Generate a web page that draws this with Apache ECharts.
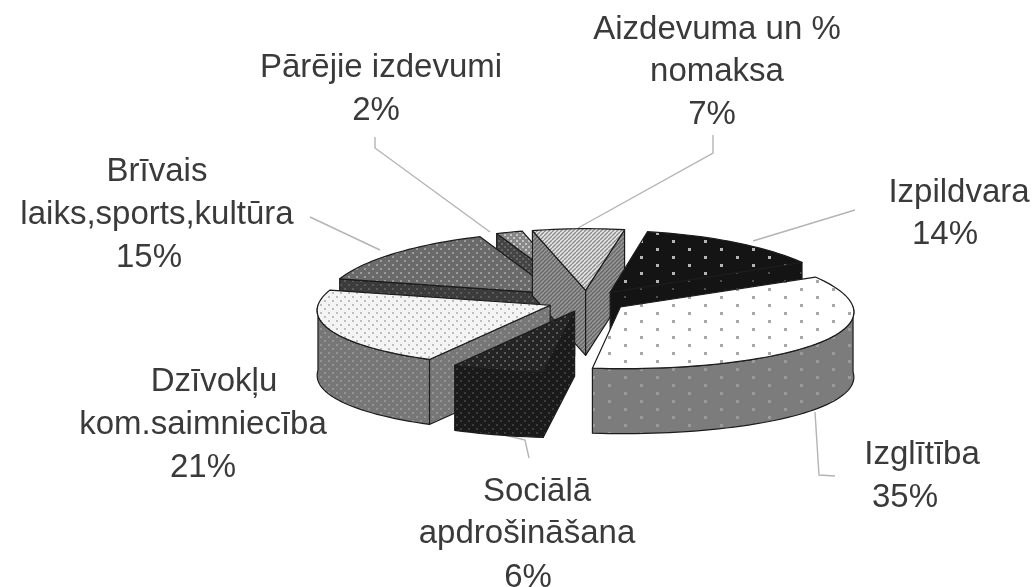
<!DOCTYPE html>
<html>
<head>
<meta charset="utf-8">
<script src="https://cdn.jsdelivr.net/npm/echarts@6/dist/echarts.min.js"></script>
<style>
  html, body { margin: 0; background: #fff; }
  #main { width: 1032px; height: 587px; filter: blur(0.5px); }
</style>
</head>
<body>
<div id="main"></div>
<script>
// percent shares, clockwise, starting from the right
var names = ['Izglītība', 'Sociālā apdrošināšana', 'Dzīvokļu kom.saimniecība', 'Brīvais laiks,sports,kultūra', 'Pārējie izdevumi', 'Aizdevuma un % nomaksa', 'Izpildvara']
var values = [35, 6, 21, 15, 2, 7, 14]
// back slices are painted first
var drawOrder = [4, 3, 5, 6, 2, 1, 0]

// pie geometry
var cx = 587, cy = 301, R = 231, squash = 0.267, depth = 65, explode = 40, startDeg = 61

function dots(bg, fg, sx, sy, size) {
  var c = document.createElement('canvas')
  c.width = sx * 2; c.height = sy * 2
  var g = c.getContext('2d')
  g.fillStyle = bg; g.fillRect(0, 0, c.width, c.height)
  g.fillStyle = fg
  g.fillRect(0, 0, size, size)
  g.fillRect(sx, sy, size, size)
  return { image: c, repeat: 'repeat' }
}
function hatch(bg, fg, step) {
  var c = document.createElement('canvas')
  c.width = step; c.height = step
  var g = c.getContext('2d')
  g.fillStyle = bg; g.fillRect(0, 0, step, step)
  g.strokeStyle = fg; g.lineWidth = 1.4
  g.beginPath()
  for (var i = -step; i <= step; i += step) { g.moveTo(i, step); g.lineTo(i + step, 0) }
  g.stroke()
  return { image: c, repeat: 'repeat' }
}

var topFill = [
  dots('#ffffff', '#a8a8a8', 16, 8, 3),
  dots('#242424', '#585858', 4, 4, 2),
  dots('#f4f4f4', '#bdbdbd', 4, 4, 2),
  dots('#6a6a6a', '#9c9c9c', 4, 4, 2),
  dots('#888888', '#c4c4c4', 3, 3, 2),
  hatch('#e6e6e6', '#8c8c8c', 4),
  dots('#141414', '#b4b4b4', 16, 8, 3)
]
var wallFill = [
  dots('#7c7c7c', '#9a9a9a', 16, 8, 3),
  dots('#1a1a1a', '#3c3c3c', 4, 4, 2),
  dots('#777777', '#939393', 4, 4, 2),
  dots('#3c3c3c', '#5c5c5c', 4, 4, 2),
  dots('#444444', '#666666', 3, 3, 2),
  hatch('#6a6a6a', '#9a9a9a', 4),
  dots('#141414', '#505050', 16, 8, 2)
]

var total = values.reduce(function (a, b) { return a + b }, 0)
var starts = []
values.reduce(function (acc, v, i) { starts[i] = acc; return acc + v }, 0)

function rad(d) { return d * Math.PI / 180 }
// back of the pie is a little narrower than the front
function project(dx, dy, drop) {
  var f = 1 + 0.0012 * dy
  return [cx + dx * f, cy + dy + drop]
}

function renderSlice(params, api) {
  var i = api.value(0)
  var a1 = startDeg + starts[i] / total * 360
  var a2 = a1 + values[i] / total * 360
  var mid = rad((a1 + a2) / 2)
  var ax = explode * Math.sin(mid), ay = -squash * explode * Math.cos(mid)
  function pt(deg, r, drop) {
    return project(ax + r * Math.sin(rad(deg)), ay - squash * r * Math.cos(rad(deg)), drop)
  }
  function arc(from, to, drop) {
    var out = []
    var n = Math.max(2, Math.ceil((to - from) / 2))
    for (var s = 0; s <= n; s++) out.push(pt(from + (to - from) * s / n, R, drop))
    return out
  }
  var stroke = { stroke: '#1c1c1c', lineWidth: 1.2, lineJoin: 'round' }
  function face(points, fill) {
    return { type: 'polygon', shape: { points: points }, style: Object.assign({ fill: fill }, stroke) }
  }
  var children = []
  var apex = pt(0, 0, 0), apexLow = pt(0, 0, depth)
  var p1 = pt(a1, R, 0), p2 = pt(a2, R, 0)
  // cut faces, only the ones turned to the viewer
  if (p1[0] < apex[0]) children.push(face([apex, p1, pt(a1, R, depth), apexLow], wallFill[i]))
  if (apex[0] < p2[0]) children.push(face([p2, apex, apexLow, pt(a2, R, depth)], wallFill[i]))
  // outer wall, the front half of the circle (angles repeat every 360)
  ;[0, 360].forEach(function (shift) {
    var from = Math.max(a1, 90 + shift), to = Math.min(a2, 270 + shift)
    if (to > from) children.push(face(arc(from, to, 0).concat(arc(from, to, depth).reverse()), wallFill[i]))
  })
  children.push(face([apex].concat(arc(a1, a2, 0)), topFill[i]))
  return { type: 'group', children: children }
}

// [text, centre x, centre y]
var labelLines = [
  ['Aizdevuma un %', 717, 30], ['nomaksa', 717, 72], ['7%', 712, 115],
  ['Pārējie izdevumi', 381, 68], ['2%', 376, 111],
  ['Brīvais', 157, 172], ['laiks,sports,kultūra', 157, 215], ['15%', 149, 258],
  ['Izpildvara', 959, 193], ['14%', 945, 235],
  ['Izglītība', 922, 455], ['35%', 905, 498],
  ['Sociālā', 537, 492], ['apdrošināšana', 527, 534], ['6%', 528, 578],
  ['Dzīvokļu', 214, 382], ['kom.saimniecība', 203, 425], ['21%', 203, 468]
]
var leaders = [
  [[375, 137], [375, 148], [490, 232]],
  [[310, 217], [380, 250]],
  [[713, 135], [713, 153], [578, 228]],
  [[855, 210], [753, 241]],
  [[815, 412], [819, 475], [835, 476]],
  [[505, 435], [525, 440], [529, 458]]
]

var graphics = leaders.map(function (pts) {
  return { type: 'polyline', z: 1, shape: { points: pts }, style: { stroke: '#b4b4b4', lineWidth: 1.4, fill: null } }
}).concat(labelLines.map(function (l) {
  return {
    type: 'text', x: l[1], y: l[2], z: 5,
    style: { text: l[0], fill: '#3a3a3a', font: '33px "Liberation Sans", Arial, sans-serif', align: 'center', verticalAlign: 'middle' }
  }
}))

var myChart = echarts.init(document.getElementById('main'))
myChart.setOption({
  animation: false,
  backgroundColor: '#ffffff',
  graphic: graphics,
  series: [{
    type: 'custom',
    coordinateSystem: 'none',
    name: 'Izdevumi',
    z: 3,
    renderItem: renderSlice,
    data: drawOrder.map(function (i) { return [i, values[i], names[i]] })
  }]
})
</script>
</body>
</html>
